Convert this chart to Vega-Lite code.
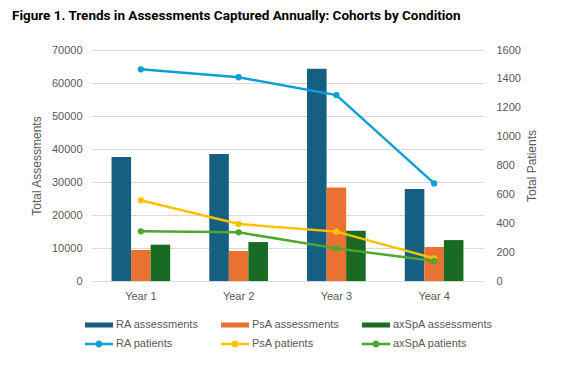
{
  "$schema": "https://vega.github.io/schema/vega-lite/v6.json",
  "width": 391,
  "height": 231,
  "autosize": "none",
  "padding": {"left": 92, "top": 50, "right": 85, "bottom": 92},
  "background": "white",
  "title": {
    "text": "Figure 1. Trends in Assessments Captured Annually: Cohorts by Condition",
    "anchor": "start",
    "frame": "group",
    "dx": -80,
    "offset": 22,
    "font": "Roboto",
    "fontSize": 13.5,
    "fontWeight": "bold",
    "color": "#000000"
  },
  "datasets": {
    "assess": [
      {"year": "Year 1", "series": "RA assessments", "value": 37600},
      {"year": "Year 1", "series": "PsA assessments", "value": 9400},
      {"year": "Year 1", "series": "axSpA assessments", "value": 11000},
      {"year": "Year 2", "series": "RA assessments", "value": 38500},
      {"year": "Year 2", "series": "PsA assessments", "value": 9100},
      {"year": "Year 2", "series": "axSpA assessments", "value": 11800},
      {"year": "Year 3", "series": "RA assessments", "value": 64300},
      {"year": "Year 3", "series": "PsA assessments", "value": 28300},
      {"year": "Year 3", "series": "axSpA assessments", "value": 15200},
      {"year": "Year 4", "series": "RA assessments", "value": 27900},
      {"year": "Year 4", "series": "PsA assessments", "value": 10300},
      {"year": "Year 4", "series": "axSpA assessments", "value": 12400}
    ],
    "patients": [
      {"year": "Year 1", "series": "RA patients", "value": 1466},
      {"year": "Year 2", "series": "RA patients", "value": 1411},
      {"year": "Year 3", "series": "RA patients", "value": 1288},
      {"year": "Year 4", "series": "RA patients", "value": 676},
      {"year": "Year 1", "series": "PsA patients", "value": 559},
      {"year": "Year 2", "series": "PsA patients", "value": 395},
      {"year": "Year 3", "series": "PsA patients", "value": 342},
      {"year": "Year 4", "series": "PsA patients", "value": 157},
      {"year": "Year 1", "series": "axSpA patients", "value": 344},
      {"year": "Year 2", "series": "axSpA patients", "value": 337},
      {"year": "Year 3", "series": "axSpA patients", "value": 226},
      {"year": "Year 4", "series": "axSpA patients", "value": 138}
    ]
  },
  "encoding": {
    "x": {
      "field": "year",
      "type": "nominal",
      "scale": {"paddingInner": 0, "paddingOuter": 0},
      "axis": {
        "title": null,
        "labelAngle": 0,
        "labelFont": "Liberation Sans",
        "labelFontSize": 11,
        "labelColor": "#595959",
        "labelPadding": 9,
        "ticks": false,
        "domainColor": "#D9D9D9",
        "grid": false
      }
    },
    "color": {
      "field": "series",
      "type": "nominal",
      "scale": {
        "domain": ["RA assessments", "PsA assessments", "axSpA assessments", "RA patients", "PsA patients", "axSpA patients"],
        "range": ["#156082", "#E97132", "#196B24", "#0F9ED5", "#FFC000", "#4EA72E"]
      },
      "legend": {
        "title": null,
        "orient": "none",
        "legendX": -7,
        "legendY": 261,
        "direction": "horizontal",
        "columns": 3,
        "columnPadding": 22,
        "rowPadding": 0,
        "symbolSize": 784,
        "labelOffset": 3,
        "labelFont": "Liberation Sans",
        "labelFontSize": 11,
        "labelColor": "#595959",
        "encode": {
          "symbols": {
            "update": {
              "shape": {"signal": "indexof(datum.value, 'patients') >= 0 ? 'M-1,-0.09L1,-0.09L1,0.09L-1,0.09Z M0.25,0A0.25,0.25,0,1,1,-0.25,0A0.25,0.25,0,1,1,0.25,0Z' : 'M-1,-0.18L1,-0.18L1,0.18L-1,0.18Z'"},
              "fill": {"scale": "color", "field": "value"},
              "stroke": {"value": "transparent"},
              "strokeWidth": {"value": 0},
              "opacity": {"value": 1},
              "fillOpacity": {"value": 1}
            }
          }
        }
      }
    }
  },
  "layer": [
    {
      "data": {"name": "assess"},
      "mark": {"type": "bar"},
      "encoding": {
        "xOffset": {
          "field": "series",
          "type": "nominal",
          "sort": ["RA assessments", "PsA assessments", "axSpA assessments"],
          "scale": {"paddingInner": 0, "paddingOuter": 1.11}
        },
        "y": {
          "field": "value",
          "type": "quantitative",
          "scale": {"domain": [0, 70000], "nice": false},
          "axis": {
            "title": "Total Assessments",
            "titleFont": "Liberation Sans",
            "titleFontSize": 12,
            "titleFontWeight": "normal",
            "titleColor": "#595959",
            "titlePadding": 8,
            "values": [0, 10000, 20000, 30000, 40000, 50000, 60000, 70000],
            "format": "d",
            "labelFont": "Liberation Sans",
            "labelFontSize": 11,
            "labelColor": "#595959",
            "labelPadding": 10,
            "ticks": false,
            "domain": false,
            "grid": true,
            "gridColor": "#D9D9D9",
            "gridWidth": 1
          }
        }
      }
    },
    {
      "data": {"name": "patients"},
      "mark": {"type": "line", "strokeWidth": 2.5, "point": {"filled": true, "size": 40}},
      "encoding": {
        "y": {
          "field": "value",
          "type": "quantitative",
          "scale": {"domain": [0, 1600], "nice": false},
          "axis": {
            "orient": "right",
            "title": "Total Patients",
            "titleAngle": 270,
            "titleBaseline": "top",
            "titleFont": "Liberation Sans",
            "titleFontSize": 12,
            "titleFontWeight": "normal",
            "titleColor": "#595959",
            "titlePadding": 6,
            "values": [0, 200, 400, 600, 800, 1000, 1200, 1400, 1600],
            "format": "d",
            "labelFont": "Liberation Sans",
            "labelFontSize": 11,
            "labelColor": "#595959",
            "labelPadding": 13,
            "ticks": false,
            "domain": false,
            "grid": false
          }
        }
      }
    }
  ],
  "resolve": {"scale": {"y": "independent"}},
  "config": {
    "view": {"stroke": null}
  }
}
